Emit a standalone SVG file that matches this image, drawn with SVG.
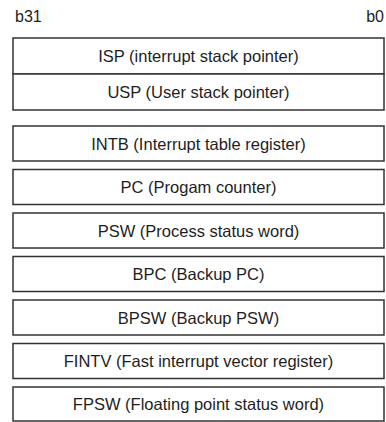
<svg xmlns="http://www.w3.org/2000/svg" width="386" height="422" viewBox="0 0 386 422">
<style>
.box{fill:#fff;stroke:#333;stroke-width:1.5}
.t{font-family:"Liberation Sans",Arial,sans-serif;font-size:16.5px;fill:#1e1e1e;text-anchor:middle}
.h{font-family:"Liberation Sans",Arial,sans-serif;font-size:16px;fill:#1e1e1e}
</style>
<rect width="386" height="422" fill="#fff"/>
<text class="h" x="15" y="22">b31</text>
<text class="h" x="384" y="22" text-anchor="end">b0</text>
<g id="isp"><rect class="box" x="13" y="38" width="371" height="36"/><text class="t" x="198.5" y="61.5">ISP (interrupt stack pointer)</text></g>
<g id="usp"><rect class="box" x="13" y="74" width="371" height="36"/><text class="t" x="198.5" y="97.5">USP (User stack pointer)</text></g>
<g id="intb"><rect class="box" x="13" y="126" width="371" height="35"/><text class="t" x="198.5" y="149.5">INTB (Interrupt table register)</text></g>
<g id="pc"><rect class="box" x="13" y="169.5" width="371" height="35"/><text class="t" x="198.5" y="193">PC (Progam counter)</text></g>
<g id="psw"><rect class="box" x="13" y="213" width="371" height="35"/><text class="t" x="198.5" y="236.5">PSW (Process status word)</text></g>
<g id="bpc"><rect class="box" x="13" y="256.5" width="371" height="35"/><text class="t" x="198.5" y="280">BPC (Backup PC)</text></g>
<g id="bpsw"><rect class="box" x="13" y="300" width="371" height="35"/><text class="t" x="198.5" y="323.5">BPSW (Backup PSW)</text></g>
<g id="fintv"><rect class="box" x="13" y="343.5" width="371" height="35"/><text class="t" x="198.5" y="367">FINTV (Fast interrupt vector register)</text></g>
<g id="fpsw"><rect class="box" x="13" y="387" width="371" height="34"/><text class="t" x="198.5" y="410">FPSW (Floating point status word)</text></g>
<g id="connectors"/>
</svg>
